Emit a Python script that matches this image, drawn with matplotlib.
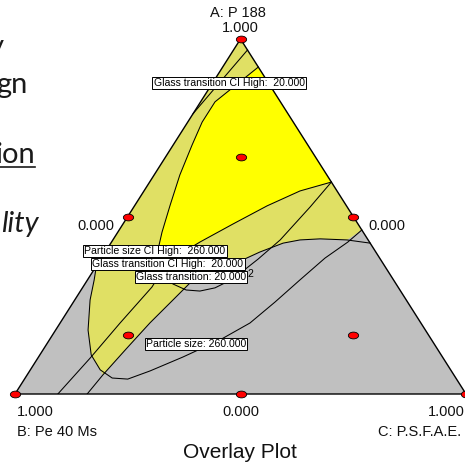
import matplotlib
matplotlib.use("Agg")
import matplotlib.pyplot as plt
from matplotlib.path import Path
from matplotlib.transforms import Affine2D
from matplotlib.lines import Line2D

W, H = 465, 467

# contour traces as mixture fractions: A (P 188) and C (P.S.F.A.E.), B = 1 - A - C
gt_ci_top_a = [0.969, 0.790]
gt_ci_top_c = [0.031, 0.000]

gt_ci_a = [0.597, 0.572, 0.530, 0.479, 0.428, 0.394, 0.361, 0.324, 0.301, 0.200, 0.101, 0.000]
gt_ci_c = [0.403, 0.346, 0.294, 0.244, 0.196, 0.169, 0.155, 0.153, 0.153, 0.133, 0.116, 0.095]

gt_a = [0.425, 0.434, 0.437, 0.434, 0.425, 0.400, 0.372, 0.347, 0.321, 0.262, 0.200, 0.127, 0.054, 0.000]
gt_c = [0.575, 0.519, 0.458, 0.415, 0.382, 0.343, 0.309, 0.270, 0.234, 0.217, 0.199, 0.183, 0.168, 0.160]

ps_ci_a = [0.921, 0.873, 0.823, 0.766, 0.701, 0.617, 0.532, 0.456, 0.406, 0.369,
           0.335, 0.310, 0.293, 0.290, 0.299, 0.324, 0.380, 0.434, 0.527, 0.597]
ps_ci_c = [0.079, 0.056, 0.032, 0.032, 0.042, 0.057, 0.078, 0.098, 0.114, 0.135,
           0.163, 0.195, 0.233, 0.265, 0.294, 0.321, 0.349, 0.371, 0.391, 0.403]

ps_a = [0.361, 0.321, 0.265, 0.180, 0.110, 0.068, 0.045, 0.042, 0.065, 0.104,
        0.152, 0.200, 0.259, 0.321, 0.383, 0.428, 0.462]
ps_c = [0.000, 0.015, 0.034, 0.072, 0.114, 0.155, 0.193, 0.229, 0.267, 0.320,
        0.378, 0.421, 0.447, 0.471, 0.496, 0.524, 0.538]

# simplex-centroid design runs (A, C); the centroid was replicated
runs_a = [1.0, 0.0, 0.0, 0.5, 0.5, 0.0, 2/3, 1/6, 1/6, 1/3]
runs_c = [0.0, 0.0, 1.0, 0.0, 0.5, 0.5, 1/6, 1/6, 2/3, 1/3]
replicates = {9: "2"}

contour_labels = [
    ("Glass transition CI High:  20.000", 229, 83),
    ("Particle size CI High:  260.000", 155, 251),
    ("Glass transition CI High:  20.000", 168, 264),
    ("Glass transition: 20.000", 191, 277),
    ("Particle size: 260.000", 196, 344),
]

GRAY = "#c0c0c0"
OLIVE = "#e0e064"
YELLOW = "#ffff00"


def to_xy(a, c):
    return [ci + ai / 2 for ai, ci in zip(a, c)], list(a)


def px(x, y):
    return x / W, 1 - y / H


fig = plt.figure(figsize=(W / 100, H / 100), dpi=100)
ax = fig.add_axes([15 / W, (H - 394) / H, 451 / W, 355 / H])
ax.set_xlim(0, 1)
ax.set_ylim(0, 1)
ax.axis("off")

# whole simplex in gray (outside the criteria)
ax.fill([0, 1, 0.5], [0, 0, 1], color=GRAY, zorder=1, lw=0)

# region where both mean criteria hold
olive_a = [1.0] + [ps_a[-1]] + gt_a[1:13] + ps_a[4::-1]
olive_c = [0.0] + [ps_c[-1]] + gt_c[1:13] + ps_c[4::-1]
ox, oy = to_xy(olive_a, olive_c)
ax.fill(ox, oy, color=OLIVE, zorder=2, lw=0)

# region where the CI criteria hold too
yel_a = [ps_ci_a[0]] + gt_ci_a[0:7] + ps_ci_a[9:0:-1]
yel_c = [ps_ci_c[0]] + gt_ci_c[0:7] + ps_ci_c[9:0:-1]
yx, yy = to_xy(yel_a, yel_c)
ax.fill(yx, yy, color=YELLOW, zorder=3, lw=0)

for a, c in [(gt_ci_top_a, gt_ci_top_c), (gt_ci_a, gt_ci_c), (gt_a, gt_c),
             (ps_ci_a, ps_ci_c), (ps_a, ps_c)]:
    lx, ly = to_xy(a, c)
    ax.plot(lx, ly, color="black", lw=0.75, zorder=4, solid_joinstyle="round")

ax.plot([0, 1, 0.5, 0], [0, 0, 1, 0], color="black", lw=1.0, zorder=5, clip_on=False)

for text, x, y in contour_labels:
    fig.text(*px(x, y), text, ha="center", va="center", fontsize=7.6,
             family="Liberation Sans", zorder=6,
             bbox=dict(boxstyle="square,pad=0.12", fc="white", ec="black", lw=0.7))

ellipse = Path.unit_circle().transformed(Affine2D().scale(1.0, 0.66))
rx, ry = to_xy(runs_a, runs_c)
ax.scatter(rx, ry, marker=ellipse, s=7.4 ** 2, c="#ff0000", edgecolors="black",
           linewidths=0.6, zorder=10, clip_on=False)
for i, lab in replicates.items():
    ax.annotate(lab, (rx[i], ry[i]), xytext=(5, 1), textcoords="offset points",
                fontsize=7.5, family="Liberation Sans", va="center", zorder=9)

tick_font = dict(fontsize=10.5, family="Liberation Sans", color="#111111")
fig.text(*px(238, 13), "A: P 188", ha="center", va="center", **tick_font)
fig.text(*px(240, 28), "1.000", ha="center", va="center", **tick_font)
fig.text(*px(96, 226), "0.000", ha="center", va="center", **tick_font)
fig.text(*px(387, 226), "0.000", ha="center", va="center", **tick_font)
fig.text(*px(35, 412), "1.000", ha="center", va="center", **tick_font)
fig.text(*px(241, 412), "0.000", ha="center", va="center", **tick_font)
fig.text(*px(428, 412), "1.000", ha="left", va="center", **tick_font)
fig.text(*px(17, 432), "B: Pe 40 Ms", ha="left", va="center", **tick_font)
fig.text(*px(378, 432), "C: P.S.F.A.E.", ha="left", va="center", **tick_font)
fig.text(*px(240, 453), "Overlay Plot", ha="center", va="center", fontsize=15,
         family="Liberation Sans", color="#111111")

# slide text running in from the left
side = dict(fontsize=21, family="Lato", color="#1a1a1a", ha="right", va="baseline")
fig.text(*px(4, 55), "y", **side)
fig.text(*px(27, 93), "gn", **side)
fig.text(*px(35, 163), "ion", **side)
fig.text(*px(39, 232), "lity", style="italic", **side)
fig.add_artist(Line2D([0, 35 / W], [1 - 166.5 / H] * 2, color="#1a1a1a", lw=1.2))

fig.savefig("out.png", dpi=100)
